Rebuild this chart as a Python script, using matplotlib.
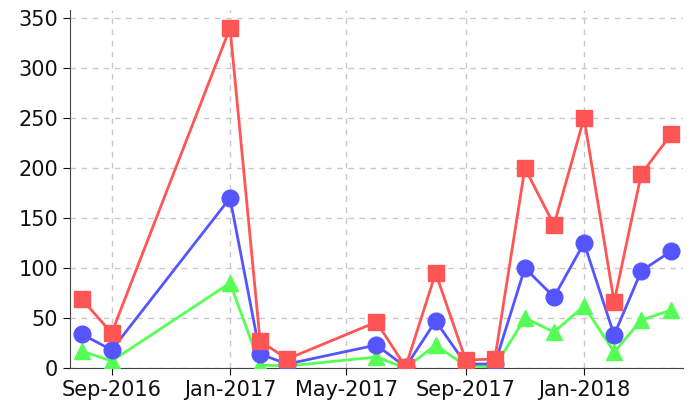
import numpy as np
import pandas as pd
import matplotlib
matplotlib.use("Agg")
import matplotlib.pyplot as plt
import matplotlib.dates as mdates

dates = pd.to_datetime([
    "2016-08-01", "2016-09-01", "2017-01-01", "2017-02-01", "2017-03-01",
    "2017-06-01", "2017-07-01", "2017-08-01", "2017-09-01", "2017-10-01",
    "2017-11-01", "2017-12-01", "2018-01-01", "2018-02-01", "2018-03-01",
    "2018-04-01",
])
red_vals = [69, 35, 340, 27, 9, 46, 1, 95, 8, 9, 200, 143, 250, 66, 194, 234]
blue_vals = [34, 18, 170, 14, 4, 23, 1, 47, 4, 4, 100, 71, 125, 33, 97, 117]
green_vals = [17, 7, 85, 3, 2, 11, 0, 23, 2, 1, 50, 36, 62, 16, 48, 58]

fig = plt.figure(figsize=(6.95, 4.08), dpi=100)
ax = fig.add_axes([0.1007, 0.098, 0.882, 0.8775])

ax.plot(dates, green_vals, color="#55FF55", lw=2, marker="^", ms=12, zorder=3)
ax.plot(dates, blue_vals, color="#5555FF", lw=2, marker="o", ms=12, zorder=4)
ax.plot(dates, red_vals, color="#FF5555", lw=2, marker="s", ms=11, zorder=5)

ax.set_xlim(pd.Timestamp("2016-07-20"), pd.Timestamp("2018-04-13"))
ax.set_ylim(0, 358)
ax.set_yticks(np.arange(0, 351, 50))
ax.xaxis.set_major_locator(mdates.MonthLocator(bymonth=[1, 5, 9]))
ax.xaxis.set_major_formatter(mdates.DateFormatter("%b-%Y"))

ax.grid(True, color="#c8c8c8", linestyle=(0, (4, 4)), lw=1)
ax.set_axisbelow(True)
for s in ("top", "right"):
    ax.spines[s].set_visible(False)
for s in ("left", "bottom"):
    ax.spines[s].set_color("#444444")
ax.tick_params(labelsize=15, colors="#111111", length=5)

fig.savefig("out.png", dpi=100)
